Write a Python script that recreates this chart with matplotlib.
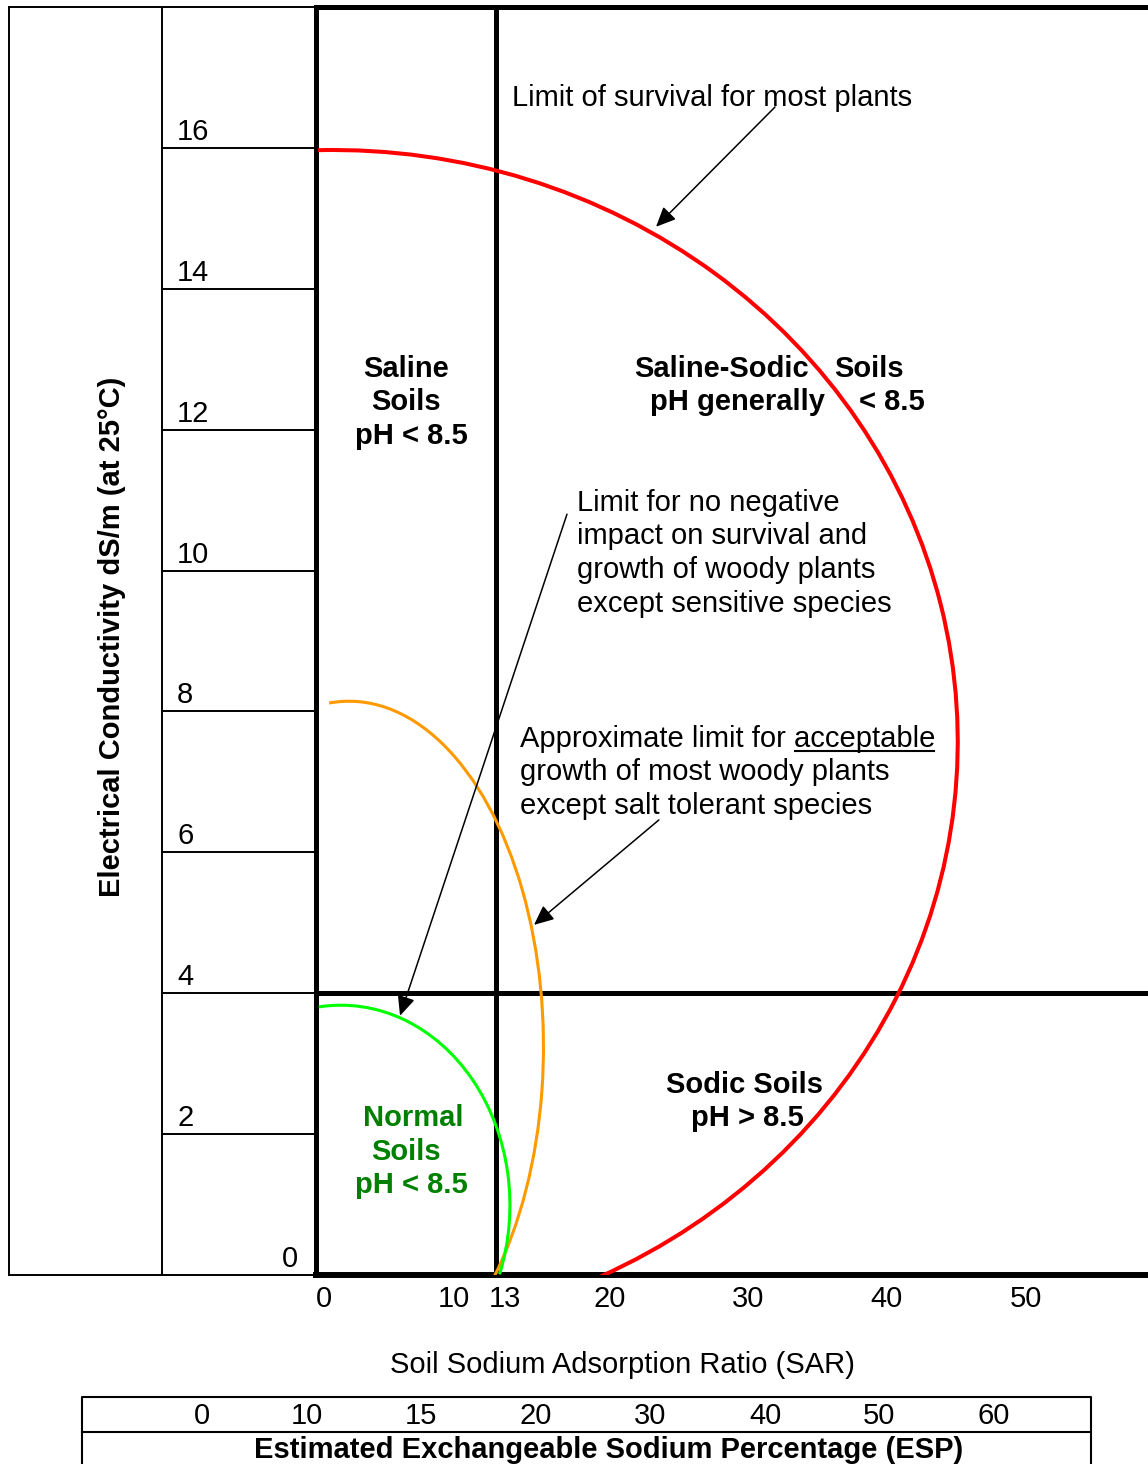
import matplotlib
matplotlib.use('Agg')
import matplotlib.pyplot as plt
from matplotlib.patches import Arc
from matplotlib.transforms import ScaledTranslation

plt.rcParams['font.family'] = ['Liberation Sans', 'DejaVu Sans']

# EC scale (dS/m) on the left, SAR scale along the bottom, ESP row under it
ec_ticks = [0, 2, 4, 6, 8, 10, 12, 14, 16]
sar_ticks = [0, 10, 13, 20, 30, 40, 50]
esp_labels = ['0', '10', '15', '20', '30', '40', '50', '60']

# soil class boundaries
sar_limit = 13
ec_limit = 4

# limit curves read off the chart as elliptical arcs
# centre (SAR, EC), full width (SAR), full height (EC), start / end angle
survival_center = (1.23, 7.57)
survival_size = (90.1, 16.8)
survival_angles = (338.5, 97.3)

acceptable_center = (2.38, 3.24)
acceptable_size = (28.05, 9.81)
acceptable_angles = (342.7, 106.4)

no_impact_center = (1.80, 0.99)
no_impact_size = (24.37, 5.68)
no_impact_angles = (355.1, 119.6)

W, H = 1148, 1464
FS = 21
fig = plt.figure(figsize=(W / 100, H / 100), dpi=100)


def box(x0, y0, x1, y1):
    # pixel box measured from the top-left corner -> figure fraction rect
    return [x0 / W, 1 - y1 / H, (x1 - x0) / W, (y1 - y0) / H]


# left panel with the EC scale
axl = fig.add_axes(box(9, 7, 316, 1275))
axl.set_xlim(0, 1)
axl.set_ylim(0, 18)
axl.set_xticks([])
axl.set_yticks([])
for s in ['left', 'top', 'bottom']:
    axl.spines[s].set_linewidth(1.4)
axl.spines['right'].set_visible(False)
axl.axvline(0.498, color='black', lw=1.4)
axl.hlines(ec_ticks[1:], 0.498, 1, color='black', lw=1.4)
for ec in ec_ticks[1:]:
    axl.text(0.548, ec + 0.114, str(ec), fontsize=FS, ha='left', va='baseline')
axl.text(0.94, 0.12, str(ec_ticks[0]), fontsize=FS, ha='right', va='baseline')
axl.text(0.335, 0.503, 'Electrical Conductivity dS/m (at 25°C)',
         transform=axl.transAxes, rotation=90, fontsize=FS, fontweight='bold',
         ha='center', va='center')

# main SAR / EC diagram
ax = fig.add_axes(box(316, 7, W, 1275))
ax.set_xlim(0, 60)
ax.set_ylim(0, 18)
ax.set_xticks([])
ax.set_yticks([])
ax.spines['left'].set_linewidth(3.6)
ax.spines['top'].set_linewidth(3.6)
ax.spines['bottom'].set_linewidth(4.3)
ax.spines['right'].set_visible(False)
ax.axvline(sar_limit, color='black', lw=3.6)
ax.axhline(ec_limit, color='black', lw=3.6)

curves = [
    (survival_center, survival_size, survival_angles, '#ff0000', 2.9),
    (acceptable_center, acceptable_size, acceptable_angles, '#ff9900', 2.2),
    (no_impact_center, no_impact_size, no_impact_angles, '#00ff00', 2.2),
]
for c, size, ang, col, lw in curves:
    ax.add_patch(Arc(c, size[0], size[1], theta1=ang[0], theta2=ang[1],
                     color=col, lw=lw, zorder=3))

# SAR labels under the axis
sar_ha = ['left', 'center', 'left', 'left', 'left', 'left', 'left']
sar_dx = [0, -1, -8, 0, 0, 0, 0]
for v, ha, dx in zip(sar_ticks, sar_ha, sar_dx):
    tr = ax.get_xaxis_transform() + ScaledTranslation(dx / 100, 0, fig.dpi_scale_trans)
    ax.text(v, -32 / 1268, str(v), transform=tr, fontsize=FS, ha=ha,
            va='baseline', clip_on=False)

# arrows pointing at the curves
arrow = dict(arrowstyle='-|>,head_length=0.6,head_width=0.27', mutation_scale=20,
             lw=1.1, color='black', shrinkA=0, shrinkB=0)
ax.annotate('', xy=(24.52, 14.88), xytext=(33.10, 16.58), arrowprops=arrow)
ax.annotate('', xy=(6.06, 3.68), xytext=(18.10, 10.80), arrowprops=arrow)
ax.annotate('', xy=(15.72, 4.97), xytext=(24.73, 6.46), arrowprops=arrow)

# overlay in pixel coordinates for the text blocks and the ESP row
ov = fig.add_axes([0, 0, 1, 1])
ov.set_xlim(0, W)
ov.set_ylim(H, 0)
ov.axis('off')

step = 33.5
ov.text(512, 106, 'Limit of survival for most plants', fontsize=FS, va='baseline')
for i, s in enumerate(['Limit for no negative', 'impact on survival and',
                       'growth of woody plants', 'except sensitive species']):
    ov.text(577, 511 + i * step, s, fontsize=FS, va='baseline')

t_acc = None
for i, s in enumerate(['Approximate limit for acceptable', 'growth of most woody plants',
                       'except salt tolerant species']):
    t = ov.text(520, 747 + i * step, s, fontsize=FS, va='baseline')
    if i == 0:
        t_acc = t

# underline the word "acceptable"
r = fig.canvas.get_renderer()
bb = t_acc.get_window_extent(r)
tmp = ov.text(0, 0, 'acceptable', fontsize=FS)
wb = tmp.get_window_extent(r)
tmp.remove()
ov.plot([bb.x1 - wb.width + 1, bb.x1 - 1], [751, 751], color='black', lw=1.5)

# soil class labels
for x, y, s in [(406, 377, 'Saline'), (405.5, 410, 'Soils'), (411, 444, 'pH < 8.5')]:
    ov.text(x, y, s, fontsize=FS, fontweight='bold', ha='center', va='baseline')
for x, y, s in [(634, 377, 'Saline-Sodic'), (834, 377, 'Soils'),
                (650, 410, 'pH generally'), (859, 410, '< 8.5')]:
    ov.text(x, y, s, fontsize=FS, fontweight='bold', ha='left', va='baseline')
for x, y, s in [(745, 1093, 'Sodic Soils'), (747.5, 1126, 'pH > 8.5')]:
    ov.text(x, y, s, fontsize=FS, fontweight='bold', ha='center', va='baseline')
for x, y, s in [(413, 1126, 'Normal'), (406, 1159.5, 'Soils'), (411, 1193, 'pH < 8.5')]:
    ov.text(x, y, s, fontsize=FS, fontweight='bold', color='#008000',
            ha='center', va='baseline')

ov.text(622.5, 1373, 'Soil Sodium Adsorption Ratio (SAR)', fontsize=FS,
        ha='center', va='baseline')

# ESP row
ov.plot([82, 82, 1091, 1091], [H, 1397, 1397, H], color='black', lw=1.5, clip_on=False)
ov.plot([82, 1091], [1432, 1432], color='black', lw=1.5)
esp_x = [202, 307, 421, 536, 650, 765, 879, 994]
for x, s in zip(esp_x, esp_labels):
    ov.text(x, 1424, s, fontsize=FS, ha='center', va='baseline')
ov.text(609, 1458, 'Estimated Exchangeable Sodium Percentage (ESP)', fontsize=FS,
        fontweight='bold', ha='center', va='baseline')

fig.savefig('out.png', dpi=100)
